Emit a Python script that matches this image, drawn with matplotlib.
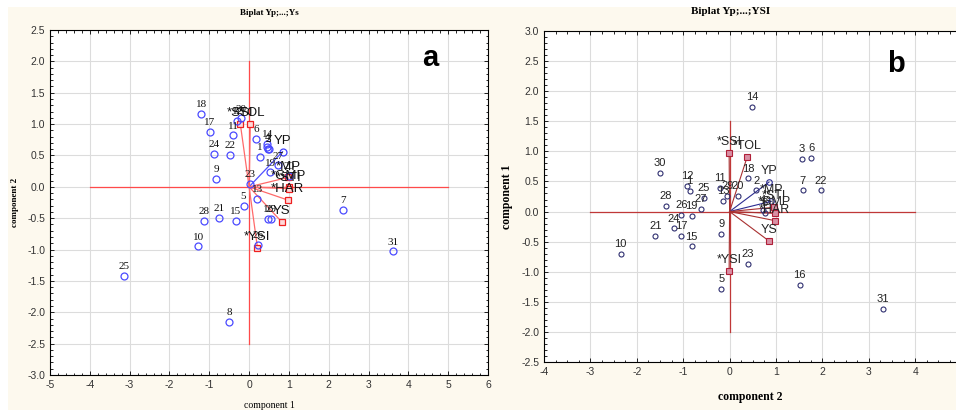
import matplotlib.pyplot as plt
from matplotlib.patches import Rectangle
from matplotlib.ticker import MultipleLocator, AutoMinorLocator

plt.rcParams["axes.unicode_minus"] = False

# ---- panel a: genotype scores (component 1 vs component 2)
a_ids = [str(i) for i in range(1, 32)]
a_x = [0.27, 0.49, 0.48, 0.46, -0.14, 0.18, 2.35, -0.50, -0.83, -1.28,
       -0.40, -0.30, 0.21, 0.46, -0.34, 0.48, -0.99, -1.20, 0.53, 1.01,
       -0.76, -0.49, 0.03, -0.89, -3.15, 0.22, 0.72, -1.14, 0.56, -0.21, 3.62]
a_y = [0.48, 0.60, 0.60, 0.63, -0.30, 0.76, -0.37, -2.15, 0.12, -0.95,
       0.82, 1.05, -0.19, 0.69, -0.55, -0.51, 0.87, 1.16, 0.23, 0.17,
       -0.50, 0.51, 0.04, 0.53, -1.42, -0.93, 0.34, -0.54, -0.51, 1.09, -1.03]

# panel a: index vectors
a_vec_names = ["YP", "*MP", "*GMP", "*STI", "*HAR", "YS", "*YSI", "*SSI", "*TOL"]
a_vec_x = [0.84, 0.98, 1.00, 1.00, 0.97, 0.82, 0.21, -0.22, 0.03]
a_vec_y = [0.56, 0.15, 0.00, -0.03, -0.21, -0.56, -0.97, 1.00, 1.00]

# ---- panel b
b_ids = [str(i) for i in range(1, 32)]
b_x = [-0.86, 0.58, 1.55, 0.72, -0.18, 1.76, 1.58, 0.76, -0.18, -2.35,
       -0.21, -0.91, -0.14, 0.48, -0.82, 1.51, -1.04, 0.40, -0.82, 0.18,
       -1.60, 1.96, 0.40, -1.20, -0.55, -1.04, -0.62, -1.38, -0.05, -1.51, 3.31]
b_y = [0.34, 0.35, 0.87, 0.02, -1.29, 0.89, 0.35, -0.03, -0.37, -0.71,
       0.39, 0.43, 0.18, 1.74, -0.58, -1.22, -0.41, 0.55, -0.08, 0.26,
       -0.41, 0.35, -0.87, -0.28, 0.22, -0.05, 0.04, 0.09, 0.26, 0.64, -1.62]

b_vec_names = ["YP", "*MP", "*STI", "*GMP", "*HAR", "YS", "*YSI", "*SSI", "*TOL"]
b_vec_x = [0.85, 0.90, 0.95, 0.97, 0.97, 0.85, -0.01, -0.01, 0.38]
b_vec_y = [0.49, 0.17, 0.07, -0.03, -0.15, -0.49, -0.98, 0.97, 0.91]

cream = "#fdf9ee"
fig = plt.figure(figsize=(9.56, 4.16), dpi=100, facecolor="white")
fig.patches.append(Rectangle((8 / 956, 6 / 416), 948 / 956, 403 / 416,
                             transform=fig.transFigure, facecolor=cream,
                             edgecolor="none", zorder=-10))

SERIF = ["Liberation Serif", "DejaVu Serif"]
SANS = ["Liberation Sans", "DejaVu Sans"]


def frame(ax, xmaj, ymaj, xminor, yminor):
    ax.set_facecolor("white")
    ax.xaxis.set_major_locator(MultipleLocator(xmaj))
    ax.yaxis.set_major_locator(MultipleLocator(ymaj))
    ax.xaxis.set_minor_locator(AutoMinorLocator(xminor))
    ax.yaxis.set_minor_locator(AutoMinorLocator(yminor))
    ax.tick_params(which="both", direction="in", top=True, right=True,
                   labelsize=7.5, labelcolor="#333333", width=0.6)
    ax.tick_params(which="major", length=3)
    ax.tick_params(which="minor", length=1.8)
    for lab in ax.get_xticklabels() + ax.get_yticklabels():
        lab.set_family(SANS)
    ax.grid(True, which="major", color="#dcdcdc", lw=0.8)
    ax.set_axisbelow(True)
    for s in ax.spines.values():
        s.set_linewidth(0.8)


# ---------- panel a ----------
ax1 = fig.add_axes([50 / 956, 41 / 416, 438 / 956, 345 / 416])
ax1.set_xlim(-5, 6)
ax1.set_ylim(-3.0, 2.5)
frame(ax1, 1, 0.5, 5, 5)
ax1.yaxis.set_major_formatter(plt.FormatStrFormatter("%.1f"))
ax1.plot([-4, 5], [0, 0], color="#ff4a4a", lw=0.9, zorder=2)
ax1.plot([0, 0], [-2.5, 2.0], color="#ff4a4a", lw=0.9, zorder=2)

for n, vx, vy in zip(a_vec_names, a_vec_x, a_vec_y):
    if n == "YP":
        ax1.plot([0, vx], [0, vy], color="#5050ff", lw=0.9, zorder=3)
        ax1.plot(vx, vy, "o", ms=5, mfc="none", mec="#4040ff", mew=0.9, zorder=4)
    else:
        ax1.plot([0, vx], [0, vy], color="#ff6a6a", lw=0.9, zorder=3)
        ax1.plot(vx, vy, "s", ms=5, mfc="#ffd8d8", mec="#ee2020", mew=0.9, zorder=4)
    ax1.annotate(n, (vx, vy), xytext=(0, 3.5), textcoords="offset points",
                 ha="center", va="bottom", fontsize=9.5, family=SANS,
                 color="#111111", zorder=5)

ax1.plot(a_x, a_y, "o", ms=5, mfc="none", mec="#4a4aff", mew=0.9, zorder=4)
for t, px, py in zip(a_ids, a_x, a_y):
    ax1.annotate(t, (px, py), xytext=(0, 3.5), textcoords="offset points",
                 ha="center", va="bottom", fontsize=8, family=SERIF,
                 color="#111111", zorder=5)

ax1.set_xlabel("component 1", family=SERIF, fontsize=7, labelpad=8)
ax1.set_ylabel("component 2", family=SERIF, fontsize=6.5, fontweight="bold",
               labelpad=6)
ax1.set_title("Biplat Yp;...;Ys", family=SERIF, fontsize=6.5,
              fontweight="bold", pad=11)
ax1.text(0.868, 0.92, "a", transform=ax1.transAxes, fontsize=21,
         fontweight="bold", family=SANS, ha="center", va="center")

# ---------- panel b ----------
ax2 = fig.add_axes([544 / 956, 54 / 416, 412 / 956, 331 / 416])
ax2.set_xlim(-4, 4.88)
ax2.set_ylim(-2.5, 3.0)
frame(ax2, 1, 0.5, 4, 5)
ax2.spines["right"].set_visible(False)
ax2.tick_params(which="both", right=False)
ax2.yaxis.set_major_formatter(plt.FormatStrFormatter("%.1f"))
ax2.plot([-3, 4], [0, 0], color="#c03838", lw=0.9, zorder=2)
ax2.plot([0, 0], [-2.0, 1.5], color="#c03838", lw=0.9, zorder=2)

for n, vx, vy in zip(b_vec_names, b_vec_x, b_vec_y):
    if n in ("YP", "*MP"):
        ax2.plot([0, vx], [0, vy], color="#2c2c90", lw=0.8, zorder=3)
        ax2.plot(vx, vy, "o", ms=4, mfc="none", mec="#2c2c90", mew=0.8, zorder=4)
    else:
        ax2.plot([0, vx], [0, vy], color="#a83030", lw=0.8, zorder=3)
        ax2.plot(vx, vy, "s", ms=4.5, mfc="#d890a4", mec="#b02038", mew=0.8, zorder=4)
    ax2.annotate(n, (vx, vy), xytext=(0, 3.5), textcoords="offset points",
                 ha="center", va="bottom", fontsize=9, family=SANS,
                 color="#222222", zorder=5)

ax2.plot(b_x, b_y, "o", ms=3.6, mfc="none", mec="#303070", mew=0.8, zorder=4)
for t, px, py in zip(b_ids, b_x, b_y):
    ax2.annotate(t, (px, py), xytext=(0, 3.5), textcoords="offset points",
                 ha="center", va="bottom", fontsize=8, family=SANS,
                 color="#222222", zorder=5)

ax2.set_xlabel("component 2", family=SERIF, fontsize=8.5, fontweight="bold",
               labelpad=10)
ax2.set_ylabel("component 1", family=SERIF, fontsize=8.5, fontweight="bold",
               labelpad=6)
ax2.set_title("Biplat Yp;...;YSI", family=SERIF, fontsize=8,
              fontweight="bold", pad=12, x=0.452)
ax2.text(0.855, 0.9, "b", transform=ax2.transAxes, fontsize=21,
         fontweight="bold", family=SANS, ha="center", va="center")

fig.savefig("out.png", dpi=100, facecolor="white")
